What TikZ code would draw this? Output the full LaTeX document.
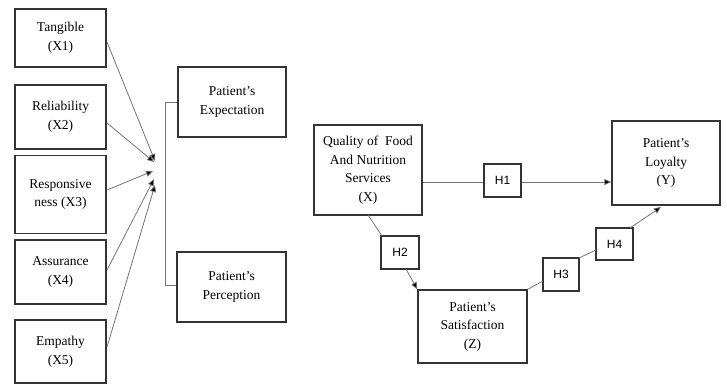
\documentclass[tikz,border=0pt]{standalone}
\usepackage{fontspec}
\setmainfont{Liberation Serif}
\newfontfamily\hfont{Liberation Sans}
\usetikzlibrary{arrows.meta}
\begin{document}
\begin{tikzpicture}[x=1pt,y=-1pt,
  box/.style={draw=black!80,line width=1.3pt,fill=white,inner sep=0pt,align=center,font=\fontsize{13.5}{18.5}\selectfont},
  hbox/.style={draw=black!80,line width=1.3pt,fill=white,inner sep=0pt,font=\hfont\fontsize{12}{14}\selectfont},
  conn/.style={draw=black!55,line width=0.8pt},
  arr/.style={conn,-{Triangle[length=7pt,width=6pt,fill=black]}}]
\useasboundingbox (0,0) rectangle (727,385);
% left boxes
\node[box,minimum width=91pt,minimum height=58pt] (t) at (60.5,38) {Tangible\\(X1)};
\node[box,minimum width=91pt,minimum height=64pt] (r) at (60.5,117) {Reliability\\(X2)};
\node[box,minimum width=91pt,minimum height=78pt] (rs) at (60.5,194.5) {Responsive\\ness (X3)};
\node[box,minimum width=91pt,minimum height=64pt] (a) at (60.5,272) {Assurance\\(X4)};
\node[box,minimum width=91pt,minimum height=63pt] (e) at (60.5,351.5) {Empathy\\(X5)};
% right column
\node[box,minimum width=108pt,minimum height=70pt] (pe) at (232,102) {Patient's\\Expectation};
\node[box,minimum width=109pt,minimum height=70pt] (pp) at (231.5,287) {Patient's\\Perception};
% convergence points
\coordinate (c1) at (155,161);
\coordinate (c2) at (154,162);
\coordinate (c3) at (153,171);
\coordinate (c4) at (154,179);
\coordinate (c5) at (155,185);
\draw[arr] (107,42) -- (c1);
\draw[arr] (107,123) -- (c2);
\draw[arr] (107,190) -- (c3);
\draw[arr] (107,270) -- (c4);
\draw[arr] (107,347) -- (c5);
% bracket
\coordinate (bt) at (165,102);
\coordinate (bb) at (165,285);
\draw[conn] (pe.west |- bt) -- (bt) -- (bb) -- (pp.west |- bb);
% right diagram
\node[box,minimum width=108pt,minimum height=90pt] (q) at (368,170) {Quality of \ Food\\And Nutrition\\Services\\(X)};
\node[box,minimum width=108pt,minimum height=84pt] (l) at (666,163) {Patient's\\Loyalty\\(Y)};
\node[box,minimum width=109pt,minimum height=73pt] (s) at (472.5,326.5) {Patient's\\Satisfaction\\(Z)};
\node[hbox,minimum width=37pt,minimum height=33pt] (h1) at (502.5,180.5) {H1};
\node[hbox,minimum width=38pt,minimum height=33pt] (h2) at (400,252.5) {H2};
\node[hbox,minimum width=36pt,minimum height=33pt] (h3) at (561,274.5) {H3};
\node[hbox,minimum width=37pt,minimum height=32pt] (h4) at (614.5,244) {H4};
\draw[conn] (q.east |- 0,182) -- (h1.west |- 0,182);
\draw[arr] (h1.east |- 0,182) -- (l.west |- 0,182);
\draw[conn] (368,215) -- (382,236);
\draw[arr] (406,269) -- (s.north west);
\draw[conn] (s.north east) -- (543,281);
\draw[conn] (579,258) -- (596,250);
\draw[arr] (630,228) -- (661,207);
\end{tikzpicture}
\end{document}
